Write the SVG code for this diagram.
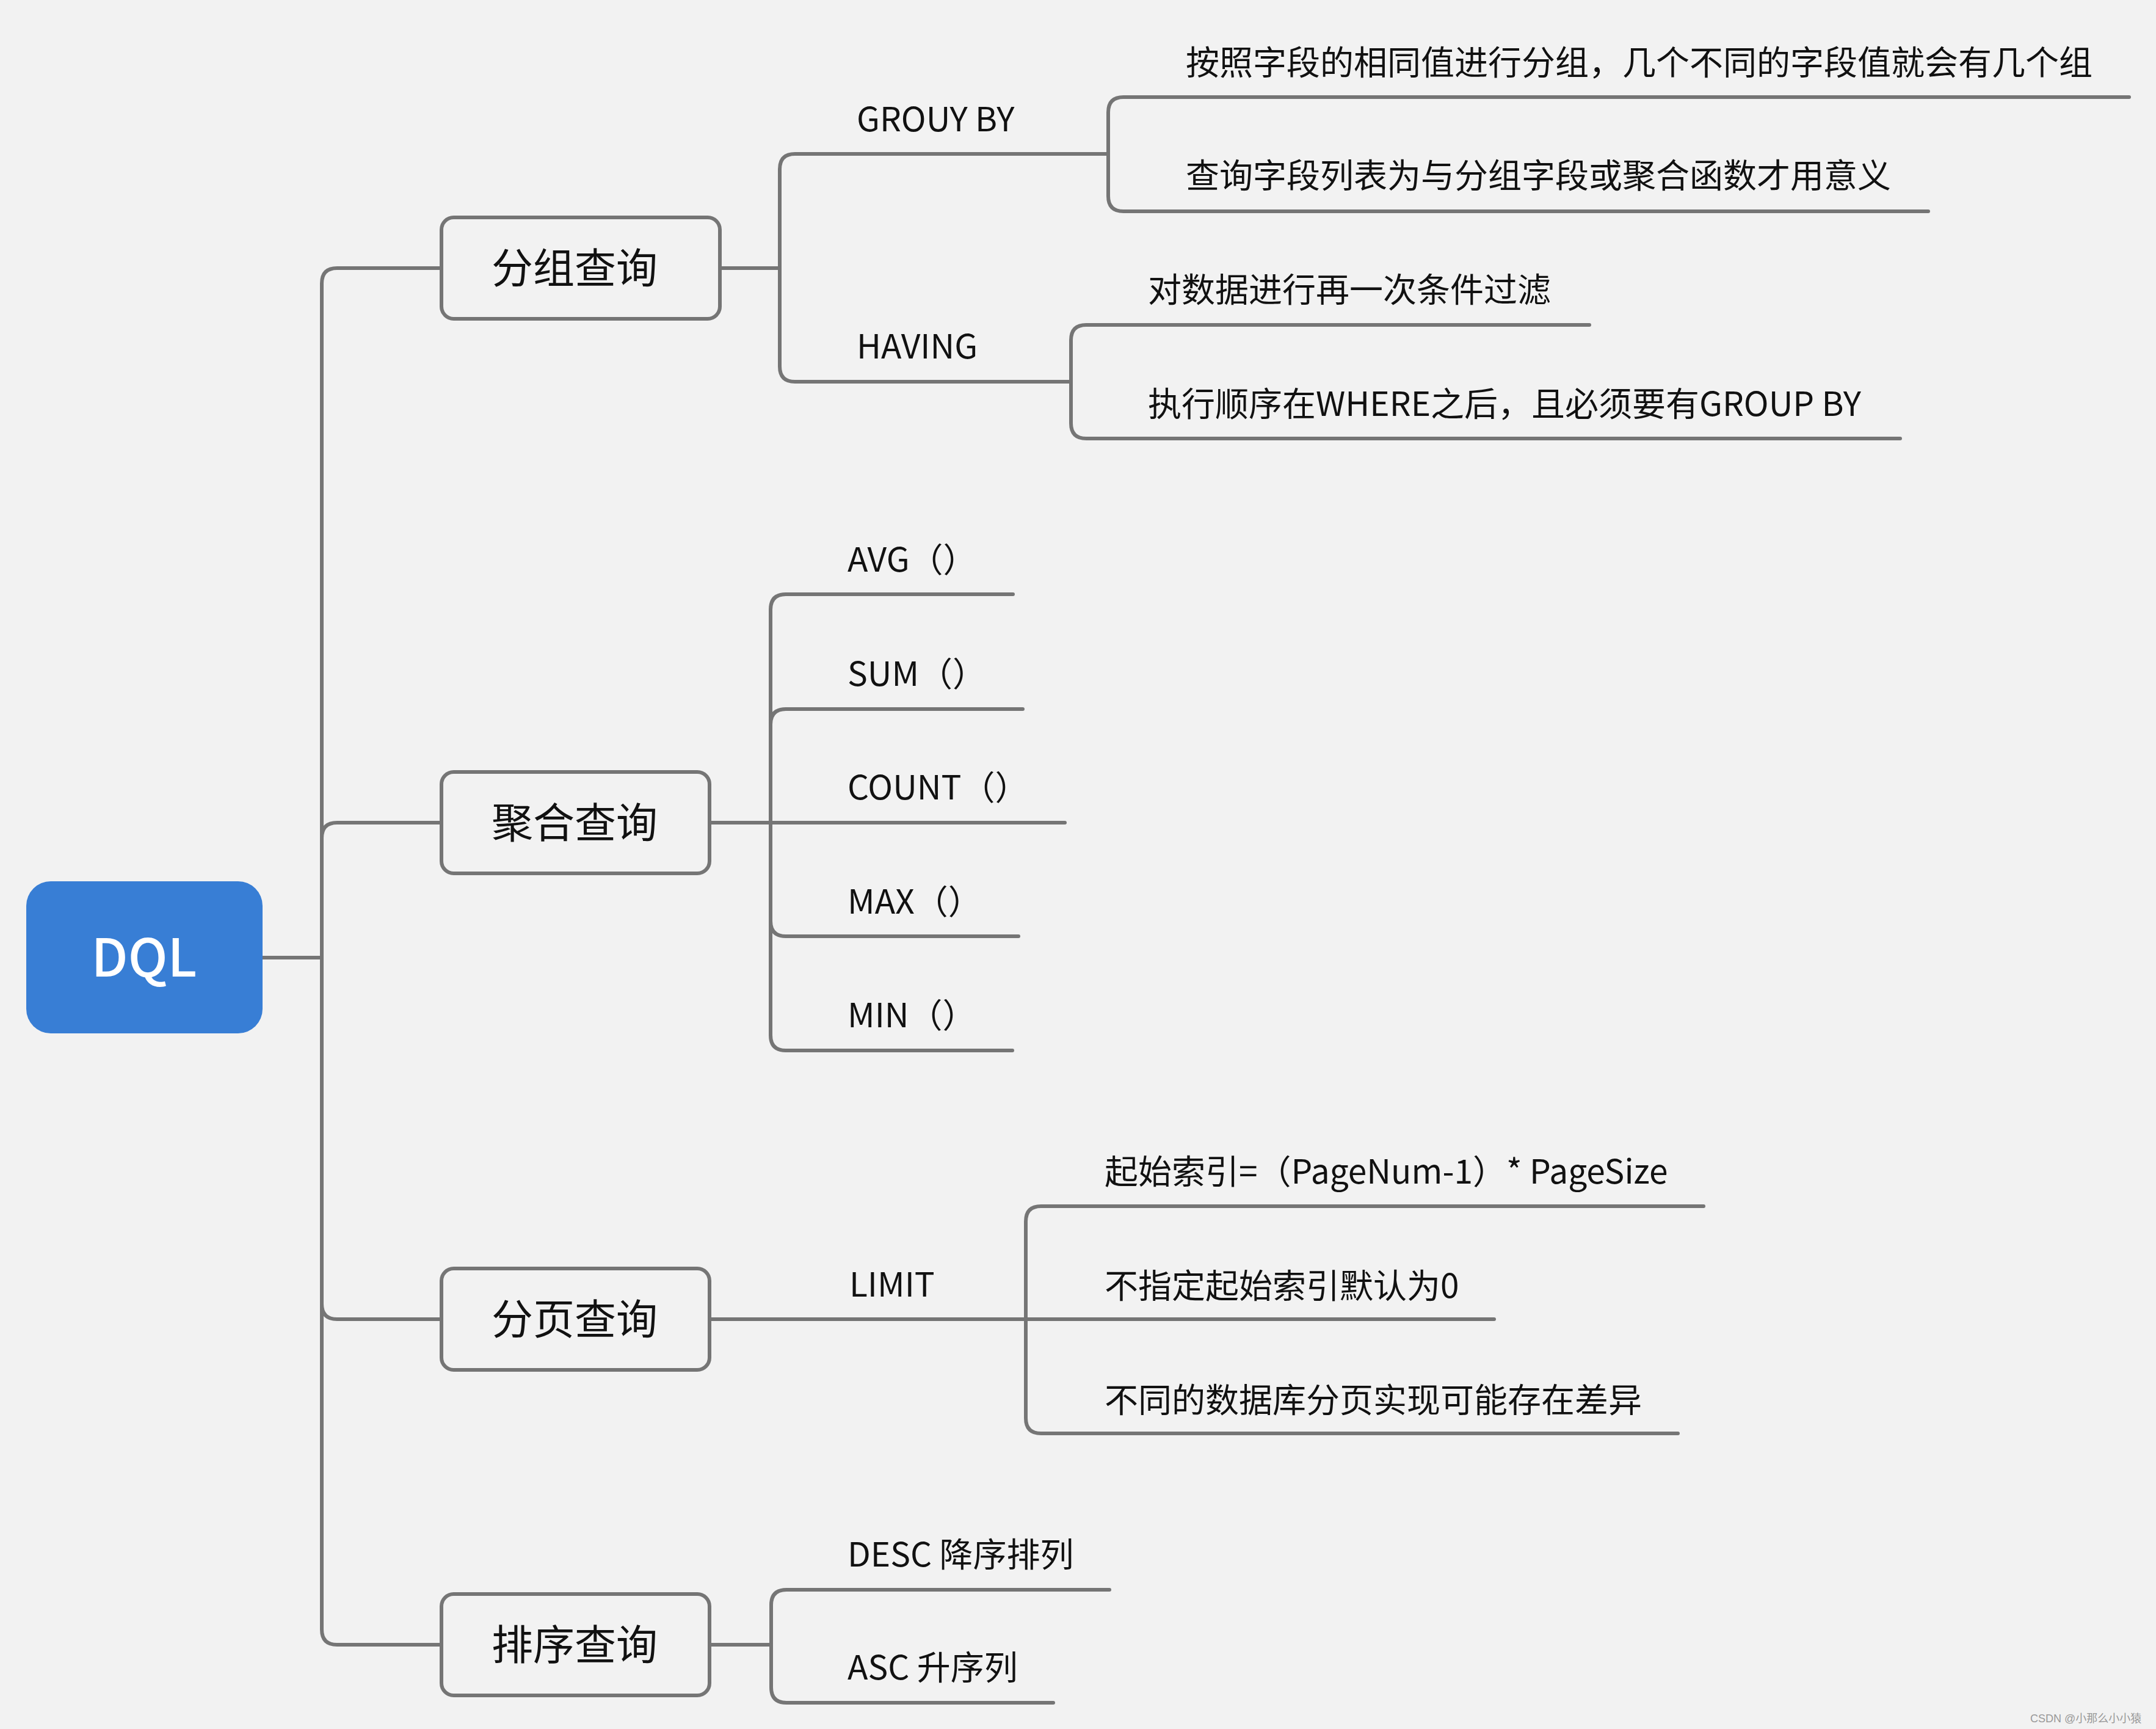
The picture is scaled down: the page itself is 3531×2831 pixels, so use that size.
<svg xmlns="http://www.w3.org/2000/svg" width="3531" height="2831" viewBox="0 0 3531 2831">
<style>
.bg{fill:#f2f2f2}
.ln{fill:none;stroke:#757575;stroke-width:6;stroke-linecap:round;stroke-linejoin:round}
.box{fill:#f2f2f2;stroke:#757575;stroke-width:6}
.nt{font-family:"Noto Sans CJK SC","Noto Sans",sans-serif;font-size:68px;fill:#111;text-anchor:middle}
.lt{font-family:"Noto Sans CJK SC","Noto Sans",sans-serif;font-size:55px;fill:#111}
.root{fill:#387ed5}
.rt{font-family:"Noto Sans CJK SC","Noto Sans",sans-serif;font-size:86px;fill:#fff;text-anchor:middle;font-weight:500}
</style>
<rect class="bg" x="0" y="0" width="3531" height="2831"/>
<g id="connectors">
<path class="ln" d="M430 1568 H527 V464 Q527 439 552 439 H723"/>
<path class="ln" d="M527 1568 V1372 Q527 1347 552 1347 H723"/>
<path class="ln" d="M527 1568 V2135 Q527 2160 552 2160 H723"/>
<path class="ln" d="M527 1568 V2668 Q527 2693 552 2693 H723"/>
<path class="ln" d="M1179 439 H1277 V277 Q1277 252 1302 252 H1815"/>
<path class="ln" d="M1277 439 V600 Q1277 625 1302 625 H1754"/>
<path class="ln" d="M1815 252 V184 Q1815 159 1840 159 H3487"/>
<path class="ln" d="M1815 252 V321 Q1815 346 1840 346 H3158"/>
<path class="ln" d="M1754 625 V557 Q1754 532 1779 532 H2603"/>
<path class="ln" d="M1754 625 V693 Q1754 718 1779 718 H3112"/>
<path class="ln" d="M1162 1347 H1744"/>
<path class="ln" d="M1262 1347 V998 Q1262 973 1287 973 H1659"/>
<path class="ln" d="M1262 1347 V1186 Q1262 1161 1287 1161 H1675"/>
<path class="ln" d="M1262 1347 V1508 Q1262 1533 1287 1533 H1668"/>
<path class="ln" d="M1262 1347 V1695 Q1262 1720 1287 1720 H1658"/>
<path class="ln" d="M1162 2160 H2447"/>
<path class="ln" d="M1680 2160 V2000 Q1680 1975 1705 1975 H2790"/>
<path class="ln" d="M1680 2160 V2322 Q1680 2347 1705 2347 H2748"/>
<path class="ln" d="M1162 2693 H1263 V2628 Q1263 2603 1288 2603 H1817"/>
<path class="ln" d="M1263 2693 V2763 Q1263 2788 1288 2788 H1725"/>
</g>
<g id="root">
<rect class="root" x="43" y="1443" width="387" height="249" rx="40"/>
<text class="rt" x="236" y="1599">DQL</text>
</g>
<g id="n-group">
<rect class="box" x="723" y="356" width="456" height="166" rx="20"/>
<text class="nt" x="941" y="464">分组查询</text>
</g>
<g id="n-agg">
<rect class="box" x="723" y="1264" width="439" height="166" rx="20"/>
<text class="nt" x="941" y="1372">聚合查询</text>
</g>
<g id="n-page">
<rect class="box" x="723" y="2077" width="439" height="166" rx="20"/>
<text class="nt" x="941" y="2185">分页查询</text>
</g>
<g id="n-sort">
<rect class="box" x="723" y="2610" width="439" height="166" rx="20"/>
<text class="nt" x="941" y="2718">排序查询</text>
</g>
<g id="l-groupby"><text class="lt" x="1403" y="215">GROUY BY</text></g>
<g id="l-having"><text class="lt" x="1403" y="587">HAVING</text></g>
<g id="l-g1"><text class="lt" x="1942" y="122">按照字段的相同值进行分组，几个不同的字段值就会有几个组</text></g>
<g id="l-g2"><text class="lt" x="1942" y="307">查询字段列表为与分组字段或聚合函数才用意义</text></g>
<g id="l-h1"><text class="lt" x="1880" y="494">对数据进行再一次条件过滤</text></g>
<g id="l-h2"><text class="lt" x="1880" y="681">执行顺序在WHERE之后，且必须要有GROUP BY</text></g>
<g id="l-avg"><text class="lt" x="1388" y="936">AVG（）</text></g>
<g id="l-sum"><text class="lt" x="1388" y="1123">SUM（）</text></g>
<g id="l-count"><text class="lt" x="1388" y="1309">COUNT（）</text></g>
<g id="l-max"><text class="lt" x="1388" y="1496">MAX（）</text></g>
<g id="l-min"><text class="lt" x="1388" y="1682">MIN（）</text></g>
<g id="l-limit"><text class="lt" x="1391" y="2123">LIMIT</text></g>
<g id="l-p1"><text class="lt" x="1809" y="1938">起始索引=（PageNum-1）* PageSize</text></g>
<g id="l-p2"><text class="lt" x="1809" y="2125">不指定起始索引默认为0</text></g>
<g id="l-p3"><text class="lt" x="1809" y="2312">不同的数据库分页实现可能存在差异</text></g>
<g id="l-desc"><text class="lt" x="1388" y="2565">DESC 降序排列</text></g>
<g id="l-asc"><text class="lt" x="1388" y="2750">ASC 升序列</text></g>
<text x="3325" y="2820" font-family="Liberation Sans, Noto Sans CJK SC, sans-serif" font-size="18" fill="#999">CSDN @小那么小小猿</text>
</svg>
